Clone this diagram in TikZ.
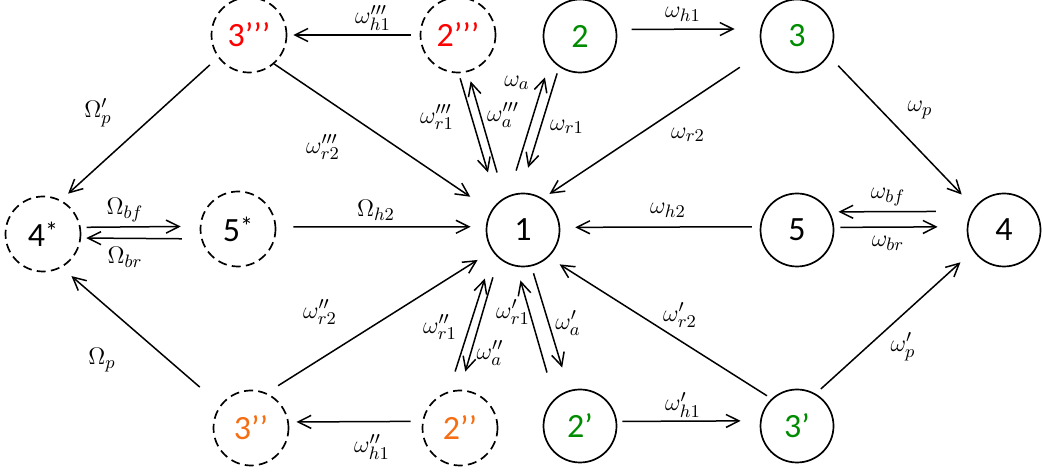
\documentclass[tikz,border=0pt]{standalone}
\usepackage{fontspec}
\newfontfamily\statefont{Carlito}
\usetikzlibrary{arrows.meta}
\definecolor{sred}{RGB}{255,0,0}
\definecolor{sgreen}{RGB}{0,140,0}
\definecolor{sorange}{RGB}{245,110,20}
\newcommand{\sstar}{\raisebox{3pt}{\fontsize{13}{13}\selectfont*}}
\begin{document}
\begin{tikzpicture}[x=0.5pt,y=-0.5pt,
  state/.style={circle,draw,line width=0.85pt,minimum size=36.5pt,inner sep=0pt,
    font=\statefont\fontsize{17}{17}\selectfont},
  ghost/.style={state,minimum size=37.5pt,dash pattern=on 4.5pt off 2.6pt},
  arr/.style={-{Straight Barb[length=6.5pt,width=6.5pt]},line width=0.75pt},
  lab/.style={font=\fontsize{13}{15}\selectfont,inner sep=0pt}]
\useasboundingbox (0,0) rectangle (1042,474);
\node[ghost,text=sred] (s3ppp) at (249,35) {3’’’};
\node[ghost,text=sred] (s2ppp) at (458,35) {2’’’};
\node[state,text=sgreen] (s2) at (580,36) {2};
\node[state,text=sgreen] (s3) at (797,36) {3};
\node[ghost] (s4x) at (43,234) {4\sstar};
\node[ghost] (s5x) at (238,229) {5\sstar};
\node[state] (s1) at (523,230) {1};
\node[state] (s5) at (797,230) {5};
\node[state] (s4) at (1004,230) {4};
\node[ghost,text=sorange] (s3pp) at (251,428) {3’’};
\node[ghost,text=sorange] (s2pp) at (460,428) {2’’};
\node[state,text=sgreen] (s2p) at (580,426) {2’};
\node[state,text=sgreen] (s3p) at (797,426) {3’};
% top row
\draw[arr,shorten <=4.5pt,shorten >=3pt] (s2ppp.180) -- (s3ppp.0);
\draw[arr,shorten <=7.4pt,shorten >=12.9pt] (s2.10.9) -- (s3.169.1);
\draw[arr,shorten <=6.9pt,shorten >=9pt] (s3.-32) -- (s4.143);
\draw[arr,shorten <=5.5pt,shorten >=4.8pt] (s3ppp.-144) -- (s4x.62);
\draw[arr,shorten <=0pt,shorten >=12.5pt] (s3ppp.-49) -- (s1.149);
\draw[arr,shorten <=14pt,shorten >=4pt] (s3.-155) -- (s1.58);
\draw[arr,shorten <=2.6pt,shorten >=16pt] (s2ppp.-89.2) -- (s1.134.7);
\draw[arr,shorten <=13.1pt,shorten >=4.8pt] (s1.120.4) -- (s2ppp.-75.4);
\draw[arr,shorten <=13.1pt,shorten >=9.6pt] (s1.113.4) -- (s2.-142.4);
\draw[arr,shorten <=3.4pt,shorten >=13.1pt] (s2.-124.5) -- (s1.94.2);
% middle row
\draw[arr,shorten <=8.5pt,shorten >=7.6pt] (s5x.3.1) -- (s1.175.3);
\draw[arr,shorten <=4pt,shorten >=7.5pt] (s5.175.3) -- (s1.4.7);
\draw[arr,shorten <=2.9pt,shorten >=9.5pt] (s4x.10.9) -- (s5x.176.9);
\draw[arr,shorten <=9.6pt,shorten >=2.6pt] (s5x.-165.9) -- (s4x.-6.2);
\draw[arr,shorten <=17.9pt,shorten >=4.4pt] (s4.150.9) -- (s5.29.1);
\draw[arr,shorten <=3pt,shorten >=14.6pt] (s5.4.7) -- (s4.175.3);
% bottom row
\draw[arr,shorten <=13.6pt,shorten >=6.5pt] (s3pp.143) -- (s4x.-61);
\draw[arr,shorten <=6.8pt,shorten >=8.5pt] (s3pp.66) -- (s1.-146);
\draw[arr,shorten <=10.4pt,shorten >=13.7pt] (s2pp.107.6) -- (s1.-143.6);
\draw[arr,shorten <=10pt,shorten >=9.4pt] (s1.-131.3) -- (s2pp.90.4);
\draw[arr,shorten <=13.6pt,shorten >=7.1pt] (s2p.133.4) -- (s1.-100.9);
\draw[arr,shorten <=3.6pt,shorten >=11.9pt] (s1.-77.7) -- (s2p.107.5);
\draw[arr,shorten <=5.8pt,shorten >=3.8pt] (s2pp.170.7) -- (s3pp.9.3);
\draw[arr,shorten <=2.7pt,shorten >=9.7pt] (s2p.7.8) -- (s3p.172.2);
\draw[arr,shorten <=2.7pt,shorten >=6.6pt] (s3p.133) -- (s1.-47);
\draw[arr,shorten <=3.5pt,shorten >=8.5pt] (s3p.60) -- (s4.-146);
% rates
\node[lab] (lh1ppp) at (373,18) {$\omega'''_{h1}$};
\node[lab] (lh1) at (683,14) {$\omega_{h1}$};
\node[lab] (lp) at (920,110) {$\omega_p$};
\node[lab] (lPppp) at (98,113) {$\Omega'_p$};
\node[lab] (lr2ppp) at (323,147) {$\omega'''_{r2}$};
\node[lab] (lr2) at (688,135) {$\omega_{r2}$};
\node[lab] (lr1ppp) at (437,117) {$\omega'''_{r1}$};
\node[lab] (lappp) at (503,115) {$\omega'''_a$};
\node[lab] (la) at (517,83) {$\omega_a$};
\node[lab] (lr1) at (567,127) {$\omega_{r1}$};
\node[lab] (lHh2) at (376,210) {$\Omega_{h2}$};
\node[lab] (lh2) at (668,210) {$\omega_{h2}$};
\node[lab] (lHbf) at (125,210) {$\Omega_{bf}$};
\node[lab] (lHbr) at (125,257) {$\Omega_{br}$};
\node[lab] (lbf) at (888,197) {$\omega_{bf}$};
\node[lab] (lbr) at (888,243) {$\omega_{br}$};
\node[lab] (lHp) at (102,360) {$\Omega_p$};
\node[lab] (lr2pp) at (320,312) {$\omega''_{r2}$};
\node[lab] (lr1pp) at (440,327) {$\omega''_{r1}$};
\node[lab] (lapp) at (490,353) {$\omega''_a$};
\node[lab] (lr1p) at (513,312) {$\omega'_{r1}$};
\node[lab] (lap) at (568,323) {$\omega'_a$};
\node[lab] (lh1pp) at (372,447) {$\omega''_{h1}$};
\node[lab] (lh1p) at (683,405) {$\omega'_{h1}$};
\node[lab] (lr2p) at (680,315) {$\omega'_{r2}$};
\node[lab] (lpp) at (903,347) {$\omega'_p$};
\end{tikzpicture}
\end{document}
